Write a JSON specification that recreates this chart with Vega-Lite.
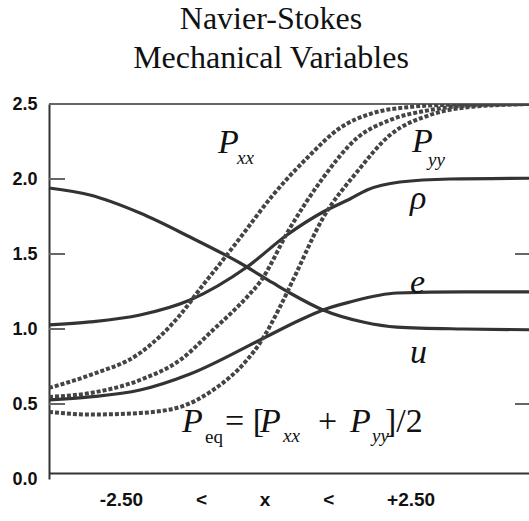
{
  "$schema": "https://vega.github.io/schema/vega-lite/v6.json",
  "autosize": {"type": "none"},
  "width": 480,
  "height": 375,
  "padding": {"left": 49, "top": 104, "right": 0, "bottom": 42},
  "background": "white",
  "config": {"view": {"stroke": null}},
  "title": {
    "text": ["Navier-Stokes", "Mechanical Variables"],
    "font": "Liberation Serif",
    "fontSize": 32,
    "fontWeight": "normal",
    "color": "#111",
    "lineHeight": 39,
    "anchor": "middle",
    "frame": "group",
    "dx": -18,
    "offset": 20
  },
  "datasets": {
    "curves": [
      {"series": "u", "x": -2.5, "y": 1.94},
      {"series": "u", "x": -2.073, "y": 1.893},
      {"series": "u", "x": -1.552, "y": 1.773},
      {"series": "u", "x": -1.031, "y": 1.613},
      {"series": "u", "x": -0.51, "y": 1.44},
      {"series": "u", "x": -0.167, "y": 1.307},
      {"series": "u", "x": 0.01, "y": 1.24},
      {"series": "u", "x": 0.354, "y": 1.127},
      {"series": "u", "x": 0.771, "y": 1.047},
      {"series": "u", "x": 1.125, "y": 1.013},
      {"series": "u", "x": 1.813, "y": 1.0},
      {"series": "u", "x": 2.5, "y": 0.995},
      {"series": "rho", "x": -2.5, "y": 1.027},
      {"series": "rho", "x": -2.073, "y": 1.047},
      {"series": "rho", "x": -1.552, "y": 1.093},
      {"series": "rho", "x": -1.031, "y": 1.193},
      {"series": "rho", "x": -0.438, "y": 1.413},
      {"series": "rho", "x": -0.021, "y": 1.627},
      {"series": "rho", "x": 0.354, "y": 1.78},
      {"series": "rho", "x": 0.635, "y": 1.867},
      {"series": "rho", "x": 0.813, "y": 1.927},
      {"series": "rho", "x": 1.156, "y": 1.98},
      {"series": "rho", "x": 1.677, "y": 2.0},
      {"series": "rho", "x": 2.5, "y": 2.005},
      {"series": "e", "x": -2.5, "y": 0.527},
      {"series": "e", "x": -2.073, "y": 0.547},
      {"series": "e", "x": -1.552, "y": 0.593},
      {"series": "e", "x": -1.031, "y": 0.7},
      {"series": "e", "x": -0.302, "y": 0.927},
      {"series": "e", "x": 0.115, "y": 1.06},
      {"series": "e", "x": 0.354, "y": 1.127},
      {"series": "e", "x": 0.635, "y": 1.18},
      {"series": "e", "x": 1.125, "y": 1.24},
      {"series": "e", "x": 1.813, "y": 1.247},
      {"series": "e", "x": 2.5, "y": 1.247},
      {"series": "Pxx", "x": -2.5, "y": 0.607},
      {"series": "Pxx", "x": -2.073, "y": 0.693},
      {"series": "Pxx", "x": -1.552, "y": 0.84},
      {"series": "Pxx", "x": -1.135, "y": 1.093},
      {"series": "Pxx", "x": -0.896, "y": 1.293},
      {"series": "Pxx", "x": -0.688, "y": 1.46},
      {"series": "Pxx", "x": -0.51, "y": 1.607},
      {"series": "Pxx", "x": -0.167, "y": 1.893},
      {"series": "Pxx", "x": 0.188, "y": 2.14},
      {"series": "Pxx", "x": 0.531, "y": 2.34},
      {"series": "Pxx", "x": 0.875, "y": 2.44},
      {"series": "Pxx", "x": 1.26, "y": 2.48},
      {"series": "Pxx", "x": 1.677, "y": 2.495},
      {"series": "Pxx", "x": 2.5, "y": 2.5},
      {"series": "Peq", "x": -2.5, "y": 0.547},
      {"series": "Peq", "x": -2.073, "y": 0.573},
      {"series": "Peq", "x": -1.552, "y": 0.66},
      {"series": "Peq", "x": -1.135, "y": 0.793},
      {"series": "Peq", "x": -0.792, "y": 0.993},
      {"series": "Peq", "x": -0.438, "y": 1.213},
      {"series": "Peq", "x": -0.302, "y": 1.313},
      {"series": "Peq", "x": 0.01, "y": 1.673},
      {"series": "Peq", "x": 0.354, "y": 2.007},
      {"series": "Peq", "x": 0.708, "y": 2.273},
      {"series": "Peq", "x": 1.052, "y": 2.393},
      {"series": "Peq", "x": 1.469, "y": 2.46},
      {"series": "Peq", "x": 1.885, "y": 2.49},
      {"series": "Peq", "x": 2.5, "y": 2.5},
      {"series": "Pyy", "x": -2.5, "y": 0.447},
      {"series": "Pyy", "x": -2.073, "y": 0.43},
      {"series": "Pyy", "x": -1.552, "y": 0.44},
      {"series": "Pyy", "x": -1.135, "y": 0.48},
      {"series": "Pyy", "x": -0.792, "y": 0.593},
      {"series": "Pyy", "x": -0.438, "y": 0.793},
      {"series": "Pyy", "x": -0.302, "y": 0.907},
      {"series": "Pyy", "x": -0.094, "y": 1.147},
      {"series": "Pyy", "x": 0.042, "y": 1.327},
      {"series": "Pyy", "x": 0.354, "y": 1.74},
      {"series": "Pyy", "x": 0.708, "y": 2.047},
      {"series": "Pyy", "x": 1.052, "y": 2.293},
      {"series": "Pyy", "x": 1.469, "y": 2.427},
      {"series": "Pyy", "x": 1.885, "y": 2.48},
      {"series": "Pyy", "x": 2.5, "y": 2.5}
    ],
    "ticks": [
      {"y": 2.0, "x": -2.5, "x2": -2.333},
      {"y": 1.5, "x": -2.5, "x2": -2.333},
      {"y": 1.0, "x": -2.5, "x2": -2.333},
      {"y": 0.5, "x": -2.5, "x2": -2.333},
      {"y": 1.5, "x": 2.354, "x2": 2.5},
      {"y": 0.5, "x": 2.354, "x2": 2.5},
      {"y": 2.5, "x": -2.5, "x2": 2.5}
    ],
    "bigItalic": [
      {"t": "P", "x": -0.74, "y": 2.173},
      {"t": "P", "x": 1.281, "y": 2.18},
      {"t": "ρ", "x": 1.26, "y": 1.8},
      {"t": "e", "x": 1.26, "y": 1.24},
      {"t": "u", "x": 1.26, "y": 0.773},
      {"t": "P", "x": -1.115, "y": 0.313},
      {"t": "P", "x": -0.302, "y": 0.313},
      {"t": "P", "x": 0.635, "y": 0.313}
    ],
    "smallItalic": [
      {"t": "xx", "x": -0.542, "y": 2.1},
      {"t": "yy", "x": 1.448, "y": 2.087},
      {"t": "xx", "x": -0.0625, "y": 0.247},
      {"t": "yy", "x": 0.865, "y": 0.247}
    ],
    "bigRoman": [
      {"t": "= [", "x": -0.667, "y": 0.313},
      {"t": "+", "x": 0.302, "y": 0.313},
      {"t": "]/2", "x": 1.0, "y": 0.313}
    ],
    "smallRoman": [
      {"t": "eq", "x": -0.875, "y": 0.24}
    ]
  },
  "encoding": {
    "x": {
      "field": "x",
      "type": "quantitative",
      "scale": {"domain": [-2.5, 2.5], "nice": false, "zero": false},
      "axis": {
        "orient": "bottom",
        "offset": -6,
        "domain": true,
        "domainColor": "#333",
        "domainWidth": 2,
        "labels": false,
        "ticks": false,
        "grid": false,
        "title": "-2.50\u00a0\u00a0\u00a0\u00a0\u00a0\u00a0\u00a0\u00a0\u00a0\u00a0<\u00a0\u00a0\u00a0\u00a0\u00a0\u00a0\u00a0\u00a0\u00a0\u00a0x\u00a0\u00a0\u00a0\u00a0\u00a0\u00a0\u00a0\u00a0\u00a0\u00a0<\u00a0\u00a0\u00a0\u00a0\u00a0\u00a0\u00a0\u00a0\u00a0\u00a0+2.50",
        "titleFont": "Liberation Sans",
        "titleFontSize": 19,
        "titleFontWeight": "bold",
        "titleColor": "#111",
        "titlePadding": 17,
        "titleX": 218,
        "titleAlign": "center"
      }
    },
    "y": {
      "field": "y",
      "type": "quantitative",
      "scale": {"domain": [0, 2.5], "nice": false, "zero": false},
      "axis": {
        "orient": "left",
        "values": [0, 0.5, 1, 1.5, 2, 2.5],
        "format": ".1f",
        "domain": true,
        "domainColor": "#333",
        "domainWidth": 2,
        "ticks": false,
        "grid": false,
        "title": null,
        "labelFont": "Liberation Sans",
        "labelFontSize": 18,
        "labelFontWeight": "bold",
        "labelColor": "#111",
        "labelPadding": 12
      }
    }
  },
  "layer": [
    {
      "data": {"name": "ticks"},
      "mark": {"type": "rule", "color": "#666", "strokeWidth": 2},
      "encoding": {"x2": {"field": "x2"}}
    },
    {
      "data": {"name": "curves"},
      "transform": [{"filter": "datum.series === 'u' || datum.series === 'rho' || datum.series === 'e'"}],
      "mark": {"type": "line", "interpolate": "monotone", "color": "#333", "strokeWidth": 3.2},
      "encoding": {"detail": {"field": "series"}}
    },
    {
      "data": {"name": "curves"},
      "transform": [{"filter": "datum.series === 'Pxx' || datum.series === 'Peq' || datum.series === 'Pyy'"}],
      "mark": {"type": "line", "interpolate": "monotone", "color": "#444", "strokeWidth": 4, "strokeDash": [4, 2], "clip": true},
      "encoding": {"detail": {"field": "series"}}
    },
    {
      "data": {"name": "bigItalic"},
      "mark": {"type": "text", "font": "Liberation Serif", "fontStyle": "italic", "fontSize": 34, "align": "left", "baseline": "alphabetic", "color": "#111"},
      "encoding": {"text": {"field": "t"}}
    },
    {
      "data": {"name": "smallItalic"},
      "mark": {"type": "text", "font": "Liberation Serif", "fontStyle": "italic", "fontSize": 19, "align": "left", "baseline": "alphabetic", "color": "#111"},
      "encoding": {"text": {"field": "t"}}
    },
    {
      "data": {"name": "bigRoman"},
      "mark": {"type": "text", "font": "Liberation Serif", "fontSize": 34, "align": "left", "baseline": "alphabetic", "color": "#111"},
      "encoding": {"text": {"field": "t"}}
    },
    {
      "data": {"name": "smallRoman"},
      "mark": {"type": "text", "font": "Liberation Serif", "fontSize": 19, "align": "left", "baseline": "alphabetic", "color": "#111"},
      "encoding": {"text": {"field": "t"}}
    }
  ]
}
